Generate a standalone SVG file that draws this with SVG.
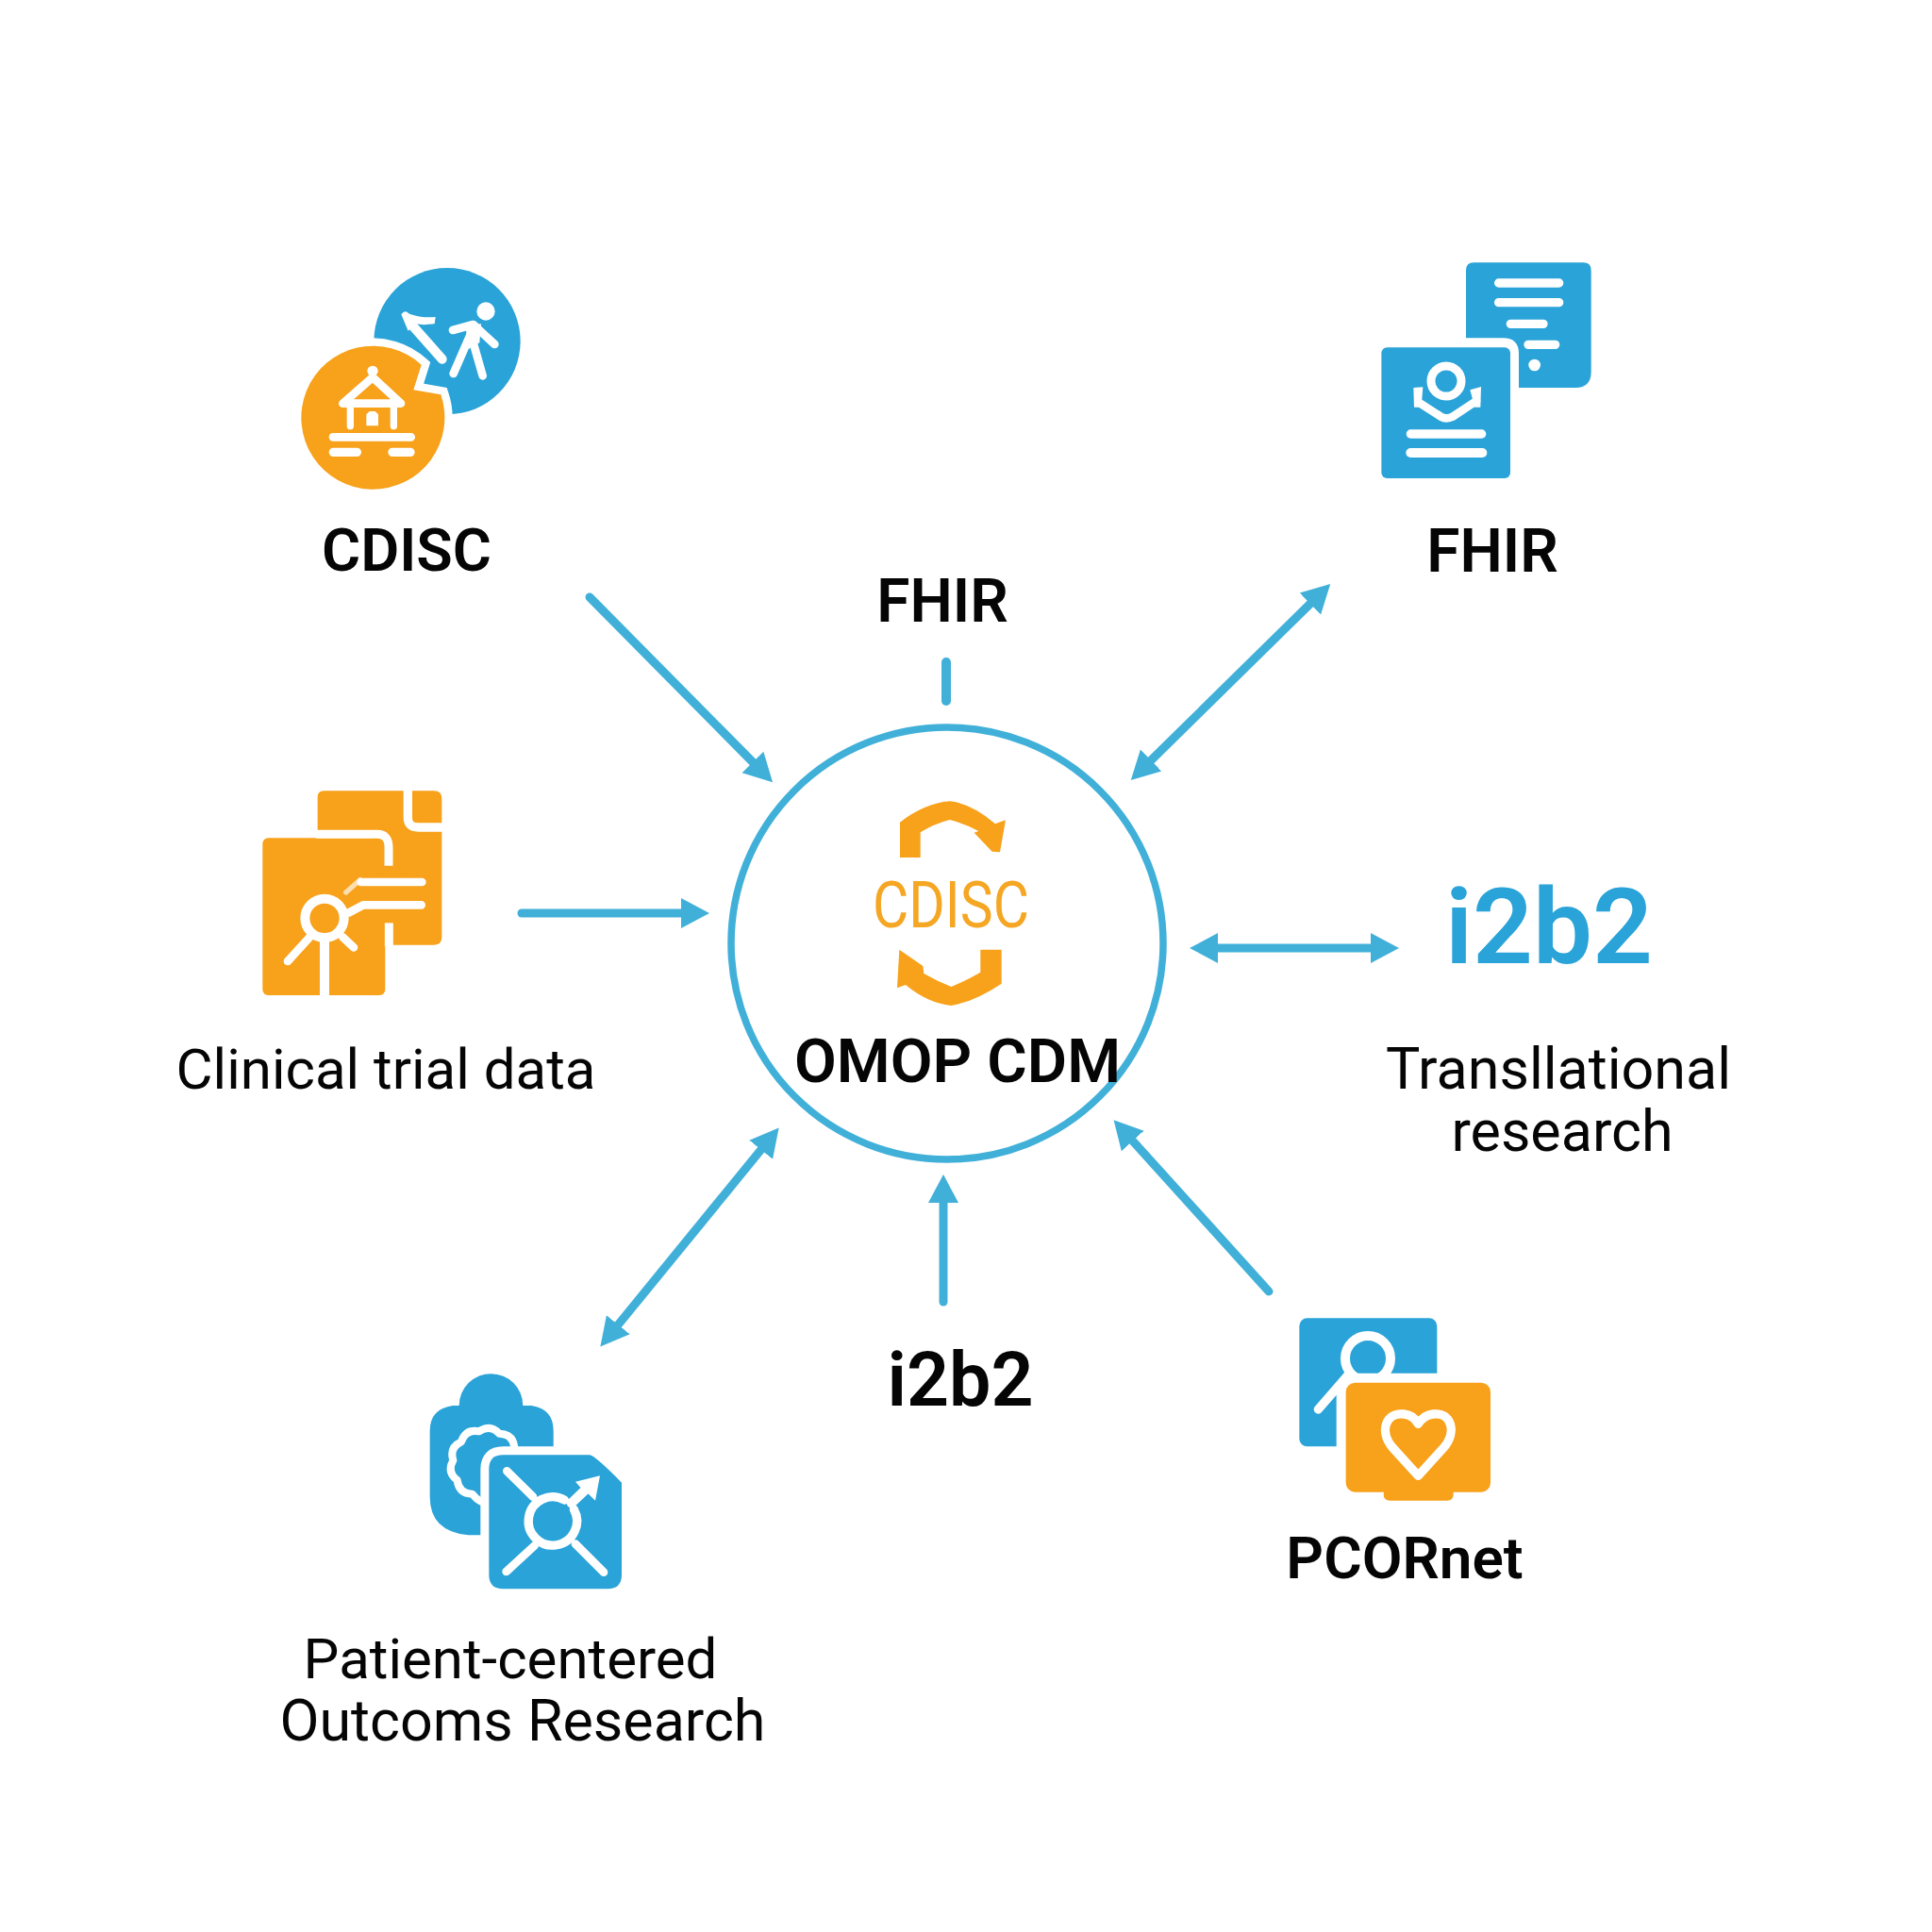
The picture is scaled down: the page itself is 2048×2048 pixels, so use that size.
<svg xmlns="http://www.w3.org/2000/svg" width="2048" height="2048" viewBox="0 0 2048 2048">
<style>
.t{font-family:Roboto,"Liberation Sans",sans-serif;text-anchor:middle;fill:#050505}
.b{font-size:63px;font-weight:600}
.r{font-size:60px;font-weight:430}
.c{fill:none;stroke:#41b0d9;stroke-width:9;stroke-linecap:round;marker-end:url(#ah)}
.d{marker-start:url(#ah);stroke-linecap:butt}
.bl{fill:#2aa3d8}
.or{fill:#f8a11a}
.w{fill:none;stroke:#fff;stroke-linecap:round;stroke-linejoin:round}
.wf{fill:#fff}
</style>
<defs>
<marker id="ah" markerUnits="userSpaceOnUse" markerWidth="40" markerHeight="40" refX="10" refY="20" orient="auto-start-reverse"><path d="M0 4 L30 20 L0 36 Z" fill="#41b0d9"/></marker>
</defs>
<rect width="2048" height="2048" fill="#fff"/>
<g id="connectors">
<line class="c" x1="625" y1="633" x2="805" y2="815"/>
<line class="c" x1="1003" y1="702" x2="1003" y2="743" style="marker-end:none;stroke-width:10"/>
<line class="c d" x1="1396" y1="633" x2="1213" y2="813"/>
<line class="c" x1="553" y1="968" x2="732" y2="968"/>
<line class="c d" x1="1281" y1="1005" x2="1463" y2="1005"/>
<line class="c d" x1="813" y1="1211" x2="649" y2="1412"/>
<line class="c" x1="1000" y1="1380" x2="1000" y2="1265"/>
<line class="c" x1="1345" y1="1369" x2="1194" y2="1202"/>
</g>
<g id="omop">
<circle cx="1004" cy="1000" r="229" fill="none" stroke="#41b0d9" stroke-width="7.5"/>
<g transform="translate(880,820) scale(.33333)" class="or">
<path d="M222 155 Q300 95 380 88 Q450 95 525 160 L558 148 L540 250 L515 248 L458 188 L472 183 Q430 160 380 147 Q330 160 287 187 L287 267 L222 267 Z"/>
<path d="M545 560 L478 560 L478 632 Q430 660 385 678 Q340 660 298 636 L295 612 L220 560 L213 682 L240 672 Q310 730 385 738 Q460 725 545 668 Z"/>
</g>
<text x="1008" y="983" textLength="166" lengthAdjust="spacingAndGlyphs" style="font-family:Roboto,sans-serif;font-size:68px;font-weight:400;fill:#f5a623;text-anchor:middle">CDISC</text>
<text class="t b" style="font-size:65px" x="1015" y="1147">OMOP CDM</text>
</g>
<g id="cdisc">
<g transform="translate(280,250) scale(.33333)">
<circle class="bl" cx="582" cy="335" r="233"/>
<path class="or" d="M500 410 L475 490 L562 505 A228 228 0 1 1 500 410 Z" stroke="#fff" stroke-width="50" paint-order="stroke"/>
<circle class="wf" cx="705" cy="240" r="29"/>
<path class="w" stroke-width="26" d="M600 300 L665 282 L733 345 M662 300 L602 438 M665 340 L695 445"/>
<path class="wf" d="M640 285 L690 280 L685 340 L650 360 Z"/>
<path class="w" stroke-width="30" d="M566 392 L465 278"/>
<path class="wf" d="M436 250 Q448 232 462 248 Q500 262 545 258 L542 280 Q505 285 482 280 L458 302 Z"/>
<circle class="wf" cx="345" cy="430" r="17"/>
<path class="w" stroke-width="26" d="M250 533 L345 450 L435 533 Z"/>
<path class="w" stroke-width="22" d="M274 533 V605 M412 533 V605" stroke-linecap="butt"/>
<path class="wf" d="M325 568 L335 558 H353 L363 568 V604 H325 Z"/>
<path class="w" stroke-width="26" d="M219 640 H467"/>
<path class="w" stroke-width="28" d="M220 688 H295 M408 688 H465"/>
</g>
<text class="t b" x="431" y="605">CDISC</text>
</g>
<g id="fhir-right">
<g transform="translate(1430,250) scale(.33333)">
<path class="bl" d="M372 110 Q372 85 397 85 L745 85 Q770 85 770 110 L770 433 Q770 483 720 483 L540 483 L540 375 Q540 325 490 325 L372 325 Z"/>
<path class="w" stroke-width="28" d="M476 150 H668 M476 212 H668 M514 280 H618 M570 346 H656"/>
<circle class="wf" cx="590" cy="411" r="19"/>
<rect class="bl" x="103" y="355" width="410" height="416" rx="18"/>
<circle class="w" cx="309" cy="462" r="48" stroke-width="27"/>
<path class="w" stroke-width="26" d="M222 530 L292 575 Q310 585 330 575 L405 525"/>
<path class="wf" d="M205 483 L235 481 L232 520 L222 545 L207 545 Z M385 490 L420 480 L418 545 L400 545 Z"/>
<path class="w" stroke-width="28" d="M196 630 H422"/>
<path class="w" stroke-width="30" d="M196 690 H424"/>
</g>
<text class="t b" style="font-size:64px" x="1582" y="606">FHIR</text>
</g>
<text id="fhir-top" class="t b" style="font-size:64px" x="999" y="659">FHIR</text>
<g id="clinical">
<g transform="translate(260,820) scale(.33333)">
<path class="or" d="M230 180 L230 75 Q230 55 250 55 L600 55 Q625 55 625 80 L625 520 Q625 545 600 545 L400 545 L400 180 Z"/>
<rect class="or" x="55" y="205" width="390" height="500" rx="18"/>
<path class="or" d="M440 205 H500 V475 H440 Z"/>
<path d="M225 193 H420 Q456 193 456 235 V293" fill="none" stroke="#fff" stroke-width="27"/>
<path d="M457 475 V550" fill="none" stroke="#fff" stroke-width="27"/>
<path d="M517 50 V140 Q517 171 550 171 H630" fill="none" stroke="#fff" stroke-width="28"/>
<path d="M252 530 V710" fill="none" stroke="#fff" stroke-width="30"/>
<circle class="w" cx="252" cy="460" r="62" stroke-width="30"/>
<path class="w" stroke-width="26" d="M135 597 L205 520 M310 520 L345 553 M330 442 L375 418 H560 M368 345 H562"/>
<path d="M320 378 L365 338" stroke="#fff" stroke-width="16" opacity=".65" stroke-linecap="round"/>
</g>
<text class="t r" x="409" y="1154">Clinical trial data</text>
</g>
<g id="i2b2-right">
<text x="1642" y="1021" style="font-family:Roboto,sans-serif;font-size:112px;font-weight:600;fill:#2aa3d8;text-anchor:middle">i2b2</text>
<text class="t r" style="font-size:61px" x="1652" y="1154">Transllational</text>
<text class="t r" style="font-size:61px" x="1656" y="1220">research</text>
</g>
<text id="i2b2-bottom" class="t" style="font-size:79px;font-weight:600" x="1018" y="1490">i2b2</text>
<g id="patient">
<g transform="translate(430,1430) scale(.33333)">
<path class="bl" d="M170 180 A101 101 0 0 1 373 180 L400 180 Q470 190 470 260 L470 470 L238 592 L200 592 Q77 580 77 470 L77 260 Q77 190 150 180 Z"/>
<path class="w" stroke-width="24" d="M346 312 Q341 270 298 269 Q268 238 233 262 Q191 254 177 295 Q138 313 151 354 Q130 392 164 417 Q169 460 212 461 Q225 478 240 485"/>
<path class="bl" d="M310 337 L585 337 Q600 337 687 425 L687 718 Q687 763 642 763 L310 763 Q265 763 265 718 L265 382 Q265 337 310 337 Z" stroke="#fff" stroke-width="54" paint-order="stroke"/>
<path class="w" stroke-width="28" d="M505 480 A77 77 0 1 0 535 510" stroke-linecap="butt"/>
<path class="w" stroke-width="26" d="M322 388 L405 470 M320 708 L410 625 M630 710 L540 620"/>
<path class="w" stroke-width="30" d="M527 490 L585 435" stroke-linecap="butt"/>
<path class="wf" d="M540 422 L618 403 L603 482 L580 460 L560 445 Z"/>
</g>
<text class="t r" x="541" y="1779">Patient-centered</text>
<text class="t r" style="font-size:61px" x="554" y="1845">Outcoms Research</text>
</g>
<g id="pcornet">
<g transform="translate(1360,1380) scale(.33333)">
<rect class="bl" x="52" y="52" width="438" height="408" rx="25"/>
<circle class="w" cx="270" cy="180" r="72" stroke-width="30"/>
<path class="w" stroke-width="28" d="M112 342 L205 235"/>
<rect class="or" x="318" y="560" width="227" height="72" rx="20"/>
<rect class="or" x="200" y="257" width="460" height="348" rx="30" stroke="#fff" stroke-width="60" paint-order="stroke"/>
<path class="or" d="M322 600 H542 V612 Q542 632 522 632 H340 Q320 632 320 612 Z"/>
<path class="w" stroke-width="28" d="M430 553 L350 465 C305 415 325 350 385 357 C410 360 422 372 430 388 C440 372 452 360 478 357 C535 350 555 415 510 465 Z"/>
</g>
<text class="t b" style="font-size:62px" x="1489" y="1673">PCORnet</text>
</g>
</svg>
